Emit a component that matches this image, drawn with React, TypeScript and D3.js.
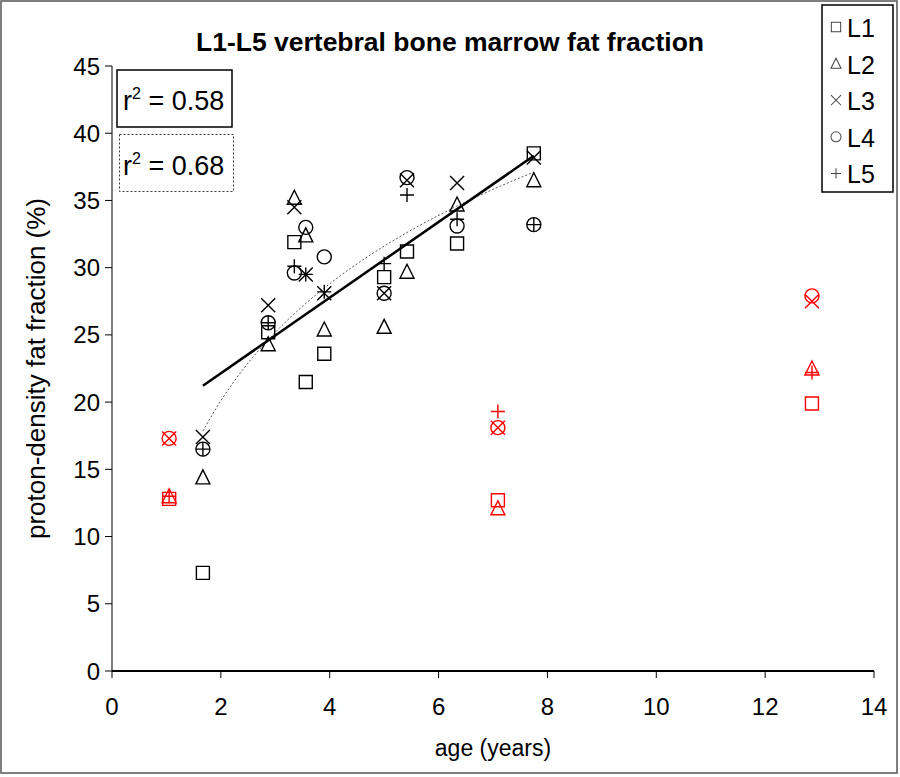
import React, { useEffect } from 'react'
import * as d3 from 'd3'

// ages of the subjects (years)
const ages = [1.05, 1.67, 2.87, 3.35, 3.56, 3.9, 5.0, 5.42, 6.34, 7.09, 7.75, 12.86]
// subjects drawn in red (left out of the trend lines)
const excluded = [true, false, false, false, false, false, false, false, false, true, false, true]

// fat fraction (%) per vertebra
const L1 = [12.8, 7.3, 25.2, 31.9, 21.5, 23.6, 29.3, 31.2, 31.8, 12.7, 38.5, 19.9]
const L2 = [13.0, 14.4, 24.3, 35.2, 32.4, 25.4, 25.6, 29.7, 34.7, 12.1, 36.5, 22.5]
const L3 = [17.3, 17.4, 27.2, 34.5, 29.5, 28.1, 28.1, 36.5, 36.3, 18.1, 38.2, 27.5]
const L4 = [17.3, 16.5, 25.9, 29.6, 33.0, 30.8, 28.1, 36.7, 33.1, 18.1, 33.2, 27.9]
const L5 = [13.0, 16.5, 25.9, 30.1, 29.5, 28.2, 30.3, 35.4, 33.6, 19.3, 33.2, 22.2]

const levels = ['L1', 'L2', 'L3', 'L4', 'L5']
const seriesValues = [L1, L2, L3, L4, L5]

const xTicks = [0, 2, 4, 6, 8, 10, 12, 14]
const yTicks = [0, 5, 10, 15, 20, 25, 30, 35, 40, 45]

const rLinear = '0.58'
const rLog = '0.68'

const markers: Record<string, string> = {
  L1: 'M-6.5,-6.5H6.5V6.5H-6.5Z',
  L2: 'M0,-7.5L7,6.5H-7Z',
  L3: 'M-7,-7L7,7M7,-7L-7,7',
  L4: 'M7,0A7,7 0 1,1 -7,0A7,7 0 1,1 7,0Z',
  L5: 'M-7,0H7M0,-7V7'
}

function fit(xs: number[], ys: number[]) {
  const mx = d3.mean(xs) as number
  const my = d3.mean(ys) as number
  let sxy = 0
  let sxx = 0
  xs.forEach((x, i) => {
    sxy += (x - mx) * (ys[i] - my)
    sxx += (x - mx) * (x - mx)
  })
  const b = sxy / sxx
  return { a: my - b * mx, b }
}

export default function App() {
  useEffect(() => {
    document.body.style.margin = '0'
  }, [])

  const width = 900
  const height = 777
  const font = 'Arial, "Liberation Sans", sans-serif'

  const x = d3.scaleLinear().domain([0, 14]).range([112, 874])
  const y = d3.scaleLinear().domain([0, 45]).range([671, 66])

  // points used by the trend lines
  const fx: number[] = []
  const fy: number[] = []
  ages.forEach((age, i) => {
    if (excluded[i]) return
    seriesValues.forEach(s => {
      fx.push(age)
      fy.push(s[i])
    })
  })
  const lin = fit(fx, fy)
  const lg = fit(fx.map(Math.log), fy)
  const xMin = d3.min(fx) as number
  const xMax = d3.max(fx) as number

  const linePath = d3.line<number>()
    .x(d => x(d))
    .y(d => y(lin.a + lin.b * d))([xMin, xMax])
  const curveXs = d3.range(0, 61).map(i => xMin + (xMax - xMin) * i / 60)
  const logPath = d3.line<number>()
    .x(d => x(d))
    .y(d => y(lg.a + lg.b * Math.log(d)))(curveXs)

  return (
    <svg width={width} height={height} style={{ display: 'block', fontFamily: font }}>
      <rect x={1} y={1} width={896} height={772} fill="#fff" stroke="#555" strokeWidth={1.5} />

      <text x={450} y={51} textAnchor="middle" fontSize={26.5} fontWeight="bold">
        L1-L5 vertebral bone marrow fat fraction
      </text>

      {/* y axis */}
      <line x1={112} x2={112} y1={y(45)} y2={y(0)} stroke="#000" strokeWidth={1} />
      {yTicks.map(t => (
        <g key={t}>
          <line x1={105} x2={112} y1={y(t)} y2={y(t)} stroke="#000" />
          <text x={100} y={y(t)} textAnchor="end" dominantBaseline="central" fontSize={24}>{t}</text>
        </g>
      ))}
      {/* x axis */}
      <line x1={x(0)} x2={x(14)} y1={y(0)} y2={y(0)} stroke="#000" strokeWidth={2} />
      {xTicks.map(t => (
        <g key={t}>
          <line x1={x(t)} x2={x(t)} y1={y(0)} y2={y(0) + 7} stroke="#000" />
          <text x={x(t)} y={706} textAnchor="middle" dominantBaseline="central" fontSize={24}>{t}</text>
        </g>
      ))}
      <text x={493} y={748} textAnchor="middle" dominantBaseline="central" fontSize={23}>age (years)</text>
      <text transform={`translate(36,${(y(0) + y(45)) / 2}) rotate(-90)`} textAnchor="middle"
        dominantBaseline="central" fontSize={26}>proton-density fat fraction (%)</text>

      {/* trend lines */}
      <path d={logPath ?? ''} fill="none" stroke="#555" strokeWidth={1} strokeDasharray="2,2" />
      <path d={linePath ?? ''} fill="none" stroke="#000" strokeWidth={2.5} />

      {/* points */}
      {levels.map((lv, k) => (
        <g key={lv}>
          {ages.map((age, i) => (
            <path key={i} d={markers[lv]} transform={`translate(${x(age)},${y(seriesValues[k][i])})`}
              fill="none" stroke={excluded[i] ? '#ff0000' : '#000'} strokeWidth={1.4} />
          ))}
        </g>
      ))}

      {/* r² boxes */}
      <rect x={117} y={70} width={115} height={57} fill="#fff" stroke="#000" strokeWidth={1.5} />
      <text x={123} y={110} fontSize={27}>r<tspan dy={-11} fontSize={16}>2</tspan><tspan dy={11}> = {rLinear}</tspan></text>
      <rect x={119.5} y={134.5} width={114} height={57} fill="#fff" stroke="#333" strokeWidth={1} strokeDasharray="2,2" />
      <text x={123} y={175} fontSize={27}>r<tspan dy={-11} fontSize={16}>2</tspan><tspan dy={11}> = {rLog}</tspan></text>

      {/* legend */}
      <rect x={822} y={5} width={71} height={187} fill="#fff" stroke="#000" strokeWidth={1.5} />
      {levels.map((lv, k) => (
        <g key={lv} transform={`translate(0,${27 + k * 36.6})`}>
          <path d={markers[lv]} transform="translate(836,0) scale(0.72)" fill="none" stroke="#444" strokeWidth={1.4} />
          <text x={847} y={1} dominantBaseline="central" fontSize={25}>{lv}</text>
        </g>
      ))}
    </svg>
  )
}
